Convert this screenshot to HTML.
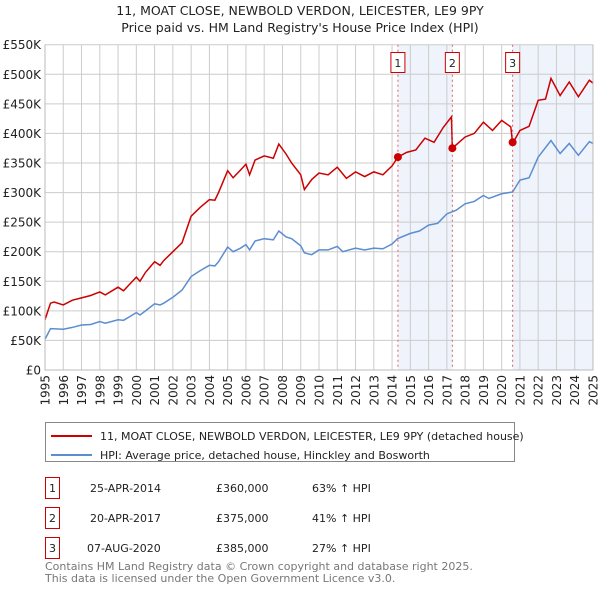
<!DOCTYPE html>
<html><head><meta charset="utf-8"><style>
body{margin:0;background:#fff;font-family:"Liberation Sans","DejaVu Sans",sans-serif;}
svg text{font-family:"DejaVu Sans","Liberation Sans",sans-serif;}
</style></head><body>
<svg id="chart" width="600" height="590" xmlns="http://www.w3.org/2000/svg">
<text x="300" y="15" text-anchor="middle" font-size="12.5" fill="#222">11, MOAT CLOSE, NEWBOLD VERDON, LEICESTER, LE9 9PY</text>
<text x="300" y="32" text-anchor="middle" font-size="12.5" fill="#222">Price paid vs. HM Land Registry's House Price Index (HPI)</text>
<g id="shade"></g><g id="grid"></g><g id="series"></g><g id="marks"></g><g id="axes"></g>
<rect x="45.5" y="422.5" width="469" height="39" fill="#fff" stroke="#888"/>
<line x1="51" y1="436" x2="92" y2="436" stroke="#cc0000" stroke-width="2"/>
<text x="100" y="440" font-size="11" fill="#222">11, MOAT CLOSE, NEWBOLD VERDON, LEICESTER, LE9 9PY (detached house)</text>
<line x1="51" y1="455" x2="92" y2="455" stroke="#5b8dd0" stroke-width="2"/>
<text x="100" y="459" font-size="11" fill="#222">HPI: Average price, detached house, Hinckley and Bosworth</text>
<g font-size="11" fill="#222">
<rect x="45.5" y="477.5" width="14" height="21" fill="#fff" stroke="#cc0000"/><text x="52.5" y="492" text-anchor="middle">1</text>
<text x="90" y="492">25-APR-2014</text><text x="216" y="492">£360,000</text><text x="312" y="492">63% ↑ HPI</text>
<rect x="45.5" y="507.5" width="14" height="21" fill="#fff" stroke="#cc0000"/><text x="52.5" y="522" text-anchor="middle">2</text>
<text x="90" y="522">20-APR-2017</text><text x="216" y="522">£375,000</text><text x="312" y="522">41% ↑ HPI</text>
<rect x="45.5" y="537.5" width="14" height="21" fill="#fff" stroke="#cc0000"/><text x="52.5" y="552" text-anchor="middle">3</text>
<text x="87" y="552">07-AUG-2020</text><text x="216" y="552">£385,000</text><text x="312" y="552">27% ↑ HPI</text>
</g>
<text x="45" y="570" font-size="11" fill="#777">Contains HM Land Registry data © Crown copyright and database right 2025.</text>
<text x="45" y="582" font-size="11" fill="#777">This data is licensed under the Open Government Licence v3.0.</text>
</svg>
<script>
const redYears=[1995.0,1995.3,1995.5,1996.0,1996.5,1997.0,1997.5,1998.0,1998.3,1999.0,1999.3,2000.0,2000.2,2000.5,2001.0,2001.3,2001.5,2002.0,2002.5,2003.0,2003.5,2004.0,2004.3,2004.5,2005.0,2005.3,2005.7,2006.0,2006.2,2006.5,2007.0,2007.5,2007.8,2008.2,2008.5,2009.0,2009.2,2009.6,2010.0,2010.5,2011.0,2011.5,2012.0,2012.5,2013.0,2013.5,2014.0,2014.32,2014.8,2015.3,2015.8,2016.3,2016.8,2017.25,2017.3,2018.0,2018.5,2019.0,2019.5,2020.0,2020.5,2020.6,2021.0,2021.5,2022.0,2022.4,2022.7,2023.2,2023.7,2024.2,2024.8,2025.0];
const redVals=[85,113,115,110,118,122,126,132,127,140,134,157,150,165,183,177,185,200,215,260,275,288,287,300,337,325,338,348,330,355,362,358,382,365,350,330,305,322,333,330,343,324,335,327,335,330,345,360,368,372,392,385,410,428,375,394,400,419,405,422,411,383,405,412,456,458,493,464,487,462,490,485];
const hpiYears=[1995.0,1995.3,1996.0,1996.5,1997.0,1997.5,1998.0,1998.3,1999.0,1999.3,2000.0,2000.2,2000.5,2001.0,2001.3,2001.5,2002.0,2002.5,2003.0,2003.5,2004.0,2004.3,2004.5,2005.0,2005.3,2005.7,2006.0,2006.2,2006.5,2007.0,2007.5,2007.8,2008.2,2008.5,2009.0,2009.2,2009.6,2010.0,2010.5,2011.0,2011.3,2012.0,2012.5,2013.0,2013.5,2014.0,2014.3,2015.0,2015.5,2016.0,2016.5,2017.0,2017.5,2018.0,2018.5,2019.0,2019.3,2020.0,2020.6,2021.0,2021.5,2022.0,2022.7,2023.2,2023.7,2024.2,2024.8,2025.0];
const hpiVals=[52,70,69,72,76,77,82,79,85,84,97,93,100,112,110,113,123,135,158,168,177,176,183,208,200,206,212,203,218,222,220,235,225,222,210,198,195,203,203,209,200,206,203,206,205,213,222,231,235,245,248,264,270,281,285,295,290,298,301,321,325,360,388,366,383,363,386,383];
const saleYears=[2014.32,2017.3,2020.6];
const saleVals=[360,375,385];
const saleLabels=["1","2","3"];
const yTicks=[0,50,100,150,200,250,300,350,400,450,500,550];
const yTickLabels=["£0","£50K","£100K","£150K","£200K","£250K","£300K","£350K","£400K","£450K","£500K","£550K"];
const xTicks=[1995,1996,1997,1998,1999,2000,2001,2002,2003,2004,2005,2006,2007,2008,2009,2010,2011,2012,2013,2014,2015,2016,2017,2018,2019,2020,2021,2022,2023,2024,2025];
const L=45,R=593,T=44.7,B=370;
const xs=y=>L+(y-1995)/30*(R-L);
const ys=v=>B-v/550*(B-T);
const NS='http://www.w3.org/2000/svg';
function mk(tag,parent,attrs){const e=document.createElementNS(NS,tag);for(const k in attrs)e.setAttribute(k,attrs[k]);document.getElementById(parent).appendChild(e);return e;}
// shading
[[saleYears[0],saleYears[1]],[saleYears[2],2025]].forEach((p,i)=>{
 const r=mk('rect','shade',{x:xs(p[0]),y:T,width:xs(p[1])-xs(p[0]),height:B-T,fill:'#eef3fc'});
 
 
});
yTicks.forEach((v,i)=>{
 const l=mk('line','grid',{x1:L,x2:R,y1:ys(v),y2:ys(v),stroke:'#ccc','stroke-width':1});
 
 
 const t=mk('text','axes',{x:L-4,y:ys(v)+4.5,'text-anchor':'end','font-size':12,fill:'#222'});
 t.textContent=yTickLabels[i];
 
 
});
xTicks.forEach(y=>{
 const l=mk('line','grid',{x1:xs(y),x2:xs(y),y1:T,y2:B,stroke:'#ccc','stroke-width':1});
 
 
 const t=mk('text','axes',{x:0,y:0,'text-anchor':'end','font-size':12,fill:'#222',transform:`translate(${xs(y)+4.5},${B+5}) rotate(-90)`});
 t.textContent=String(y);
 
 
});
const ax=mk('path','axes',{d:`M${L},${T}V${B}H${R}V${T}`,fill:'none',stroke:'#bbb'});


saleYears.forEach((y,i)=>{
 const l=mk('line','marks',{x1:xs(y),x2:xs(y),y1:T,y2:B,stroke:'#e06060','stroke-dasharray':'2,3','stroke-width':1});
 
 
 const b=mk('rect','marks',{x:xs(y)-7,y:52.5,width:14,height:20,fill:'#fff',stroke:'#cc0000'});
 
 
 const t=mk('text','marks',{x:xs(y),y:67,'text-anchor':'middle','font-size':11,fill:'#222'});
 t.textContent=saleLabels[i];
 
 
});
const hp=mk('polyline','series',{points:hpiYears.map((y,i)=>xs(y)+','+ys(hpiVals[i])).join(' '),fill:'none',stroke:'#5b8dd0','stroke-width':1.5});


const rp=mk('polyline','series',{points:redYears.map((y,i)=>xs(y)+','+ys(redVals[i])).join(' '),fill:'none',stroke:'#cc0000','stroke-width':1.5});


saleYears.forEach((y,i)=>{
 const c=mk('circle','marks',{cx:xs(y),cy:ys(saleVals[i]),r:4,fill:'#cc0000'});
 
 
});
</script>
</body></html>
